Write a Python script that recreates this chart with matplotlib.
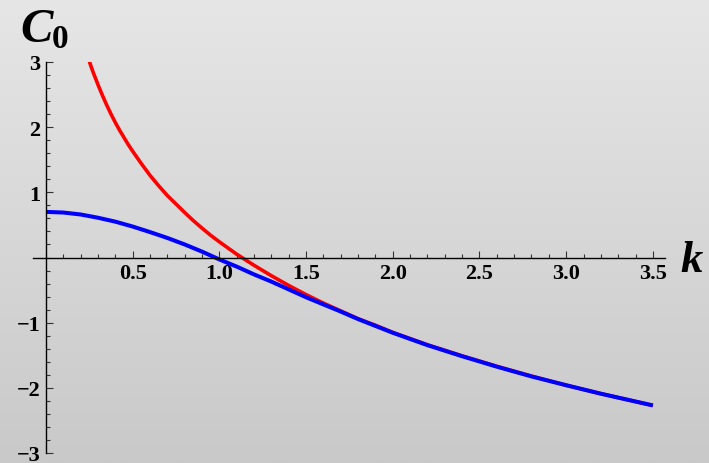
import numpy as np
import matplotlib.pyplot as plt
from matplotlib.ticker import MultipleLocator, FixedLocator

# values
k_red = [0.24, 0.25, 0.26, 0.275, 0.29, 0.30, 0.325, 0.35, 0.375, 0.40, 0.425,
         0.45, 0.475, 0.50, 0.55, 0.60, 0.65, 0.70, 0.75, 0.80, 0.85, 0.90,
         0.95, 1.00, 1.10, 1.20, 1.30, 1.40, 1.50, 1.60, 1.70, 1.80, 1.90,
         2.00, 2.20, 2.40, 2.60, 2.80, 3.00, 3.20, 3.40, 3.50]
c_red = [3.09, 3.01, 2.93, 2.82, 2.72, 2.65, 2.49, 2.34, 2.20, 2.07, 1.95,
         1.84, 1.73, 1.63, 1.44, 1.26, 1.10, 0.95, 0.82, 0.69, 0.565, 0.45,
         0.34, 0.24, 0.05, -0.12, -0.28, -0.43, -0.57, -0.70, -0.82, -0.94,
         -1.04, -1.15, -1.34, -1.51, -1.67, -1.82, -1.96, -2.09, -2.21, -2.27]

k_blue = [0.0, 0.1, 0.2, 0.3, 0.4, 0.5, 0.6, 0.7, 0.8, 0.9, 1.0, 1.1, 1.2,
          1.3, 1.4, 1.5, 1.6, 1.7, 1.8, 1.9, 2.0, 2.2, 2.4, 2.6, 2.8, 3.0,
          3.2, 3.4, 3.5]
c_blue = [0.70, 0.69, 0.66, 0.61, 0.55, 0.475, 0.39, 0.30, 0.20, 0.09, -0.03,
          -0.14, -0.26, -0.37, -0.49, -0.61, -0.72, -0.83, -0.945, -1.05,
          -1.155, -1.345, -1.515, -1.675, -1.825, -1.96, -2.09, -2.21, -2.27]

x_ticks = [0.5, 1.0, 1.5, 2.0, 2.5, 3.0, 3.5]
y_ticks = [-3, -2, -1, 1, 2, 3]

W, H = 709, 464
fig = plt.figure(figsize=(W / 100, H / 100), dpi=100)

# grey vertical gradient background, light at the top
bg = fig.add_axes([0, 0, 1, 1])
shade = np.linspace(230, 201, 256) / 255
img = np.repeat(shade[:, None, None], 3, axis=2)
bg.imshow(img, aspect='auto', extent=[0, 1, 0, 1], origin='upper')
bg.set_axis_off()

# axes box in pixels: x from 33 to 665, y from 63 (top) to 454 (bottom)
ax = fig.add_axes([33 / W, (H - 454) / H, (665 - 33) / W, (454 - 63) / H])
ax.set_facecolor('none')

ax.plot(k_red, c_red, color='#ff0000', lw=2.6, solid_capstyle='butt')
ax.plot(k_blue, c_blue, color='#0000ff', lw=2.9, solid_capstyle='butt')

ax.set_xlim(-0.075, 3.57)
ax.set_ylim(-3, 3)

for s in ['top', 'right']:
    ax.spines[s].set_visible(False)
ax.spines['left'].set_position(('data', 0))
ax.spines['bottom'].set_position(('data', 0))
ax.spines['left'].set_bounds(-3, 3)
for s in ['left', 'bottom']:
    ax.spines[s].set_linewidth(1.0)
    ax.spines[s].set_color('black')

ax.xaxis.set_major_locator(FixedLocator(x_ticks))
ax.xaxis.set_minor_locator(MultipleLocator(0.1))
ax.yaxis.set_major_locator(FixedLocator(y_ticks))
ax.yaxis.set_minor_locator(MultipleLocator(0.2))
ax.set_xticklabels([f'{v:.1f}' for v in x_ticks])
ax.set_yticklabels([str(v).replace('-', '\u2212') for v in y_ticks])

ax.tick_params(which='both', direction='in', color='#333333', width=0.8)
ax.tick_params(which='major', length=5)
ax.tick_params(which='minor', length=3)
ax.tick_params(axis='x', which='major', pad=4)
ax.tick_params(axis='y', which='major', pad=4)
for lab in ax.get_xticklabels() + ax.get_yticklabels():
    lab.set_fontfamily('Liberation Serif')
    lab.set_fontweight('bold')
    lab.set_fontsize(16)

# axis labels in Mathematica style
fig.text(20 / W, (H - 42) / H, 'C', family='Liberation Serif', weight='bold',
         style='italic', fontsize=35, ha='left', va='baseline')
fig.text(52 / W, (H - 48) / H, '0', family='Liberation Serif', weight='bold',
         fontsize=24, ha='left', va='baseline')
fig.text(680 / W, (H - 272) / H, 'k', family='Liberation Serif', weight='bold',
         style='italic', fontsize=32, ha='left', va='baseline')

fig.savefig('out.png', dpi=100)
